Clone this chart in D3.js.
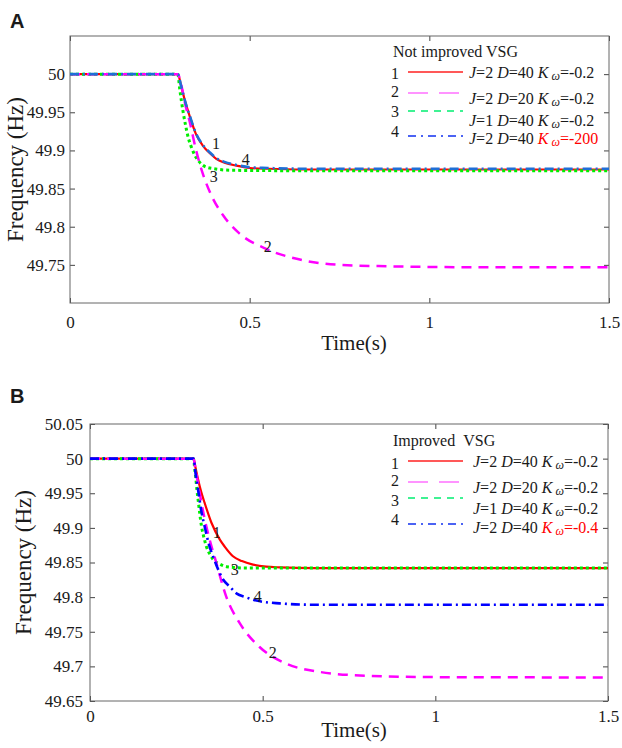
<!DOCTYPE html>
<html>
<head>
<meta charset="utf-8">
<script src="https://cdn.jsdelivr.net/npm/d3@7"></script>
<style>
  body {margin: 0; background: #fff;}
  text {font-family: "Liberation Serif", "Times New Roman", serif; fill: #1a1a1a;}
  .panel-tag {font-family: "Liberation Sans", Arial, sans-serif; font-weight: bold;}
</style>
</head>
<body>
<script>
// tick labels
const xTicks = [0, 0.5, 1, 1.5]
const yTicksA = [49.75, 49.8, 49.85, 49.9, 49.95, 50]
const yTicksB = [49.65, 49.7, 49.75, 49.8, 49.85, 49.9, 49.95, 50, 50.05]

// legend texts
const legendJ = [2, 2, 1, 2]
const legendD = [40, 20, 40, 40]
const legendKA = ['-0.2', '-0.2', '-0.2', '-200']
const legendKB = ['-0.2', '-0.2', '-0.2', '-0.4']

// A: not improved VSG
const timeA1 = [0, 0.3, 0.31, 0.32, 0.333, 0.35, 0.37, 0.39, 0.407, 0.43, 0.463, 0.5, 0.55, 0.65, 1.0, 1.5]
const freqA1 = [50, 50, 49.983, 49.965, 49.945, 49.922, 49.906, 49.896, 49.889, 49.884, 49.880, 49.877, 49.876, 49.875, 49.875, 49.875]
const timeA2 = [0, 0.3, 0.31, 0.32, 0.333, 0.35, 0.37, 0.3935, 0.426, 0.472, 0.546, 0.648, 0.75, 0.9, 1.1, 1.5]
const freqA2 = [50, 50, 49.985, 49.962, 49.938, 49.902, 49.869, 49.841, 49.815, 49.791, 49.771, 49.756, 49.750, 49.748, 49.747, 49.747]
const timeA3 = [0, 0.3, 0.305, 0.31, 0.315, 0.322, 0.329, 0.338, 0.347, 0.36, 0.375, 0.4, 0.45, 0.6, 1.0, 1.5]
const freqA3 = [50, 50, 49.982, 49.965, 49.950, 49.932, 49.917, 49.904, 49.894, 49.885, 49.879, 49.876, 49.874, 49.8735, 49.8735, 49.8735]
const timeA4 = [0, 0.3, 0.31, 0.32, 0.333, 0.35, 0.37, 0.39, 0.407, 0.43, 0.463, 0.5, 0.55, 0.65, 1.0, 1.5]
const freqA4 = [50, 50, 49.983, 49.965, 49.946, 49.923, 49.907, 49.897, 49.890, 49.885, 49.881, 49.878, 49.877, 49.876, 49.876, 49.876]

// B: improved VSG
const timeB1 = [0, 0.3, 0.306, 0.313, 0.322, 0.332, 0.352, 0.376, 0.39, 0.414, 0.44, 0.472, 0.51, 0.549, 0.65, 1.0, 1.5]
const freqB1 = [50, 50, 49.986, 49.970, 49.952, 49.936, 49.907, 49.883, 49.873, 49.859, 49.852, 49.847, 49.844, 49.843, 49.842, 49.842, 49.842]
const timeB2 = [0, 0.3, 0.305, 0.313, 0.325, 0.337, 0.366, 0.395, 0.434, 0.491, 0.568, 0.665, 0.8, 1.0, 1.5]
const freqB2 = [50, 50, 49.986, 49.964, 49.930, 49.902, 49.849, 49.800, 49.762, 49.728, 49.704, 49.692, 49.6865, 49.6845, 49.684]
const timeB3 = [0, 0.3, 0.303, 0.306, 0.31, 0.313, 0.318, 0.323, 0.33, 0.337, 0.347, 0.357, 0.375, 0.395, 0.45, 1.0, 1.5]
const freqB3 = [50, 50, 49.986, 49.974, 49.953, 49.941, 49.920, 49.902, 49.886, 49.873, 49.862, 49.854, 49.848, 49.844, 49.842, 49.842, 49.842]
const timeB4 = [0, 0.3, 0.306, 0.313, 0.322, 0.332, 0.345, 0.357, 0.372, 0.386, 0.405, 0.425, 0.45, 0.482, 0.549, 0.65, 1.0, 1.5]
const freqB4 = [50, 50, 49.977, 49.955, 49.925, 49.902, 49.875, 49.858, 49.839, 49.825, 49.815, 49.805, 49.800, 49.795, 49.791, 49.789, 49.789, 49.789]

// curve number annotations [t, f]
const tagsA = [[0.406, 49.909], [0.55, 49.774], [0.40, 49.865], [0.489, 49.888]]
const tagsB = [[0.367, 49.893], [0.529, 49.720], [0.419, 49.839], [0.486, 49.800]]

const svg = d3.select('body').append('svg')
  .attr('width', 622).attr('height', 748)

// 曲线样式
const styles = [
  {color: '#ff0000', width: 2.2, dash: null, legColor: '#ff2020', legDash: null},
  {color: '#ff00ff', width: 2.5, dash: '10,7', legColor: '#ff70ff', legDash: '20,11'},
  {color: '#00ee00', width: 3, dash: '3,3', legColor: '#00ee70', legDash: '7,6'},
  {color: '#0000ff', width: 2.6, dash: '9,4,2,4', legColor: '#1030f0', legDash: '8,5,2,5'}
]

function paramLabel (sel, j, d, k, red) {
  sel.append('tspan').attr('font-style', 'italic').text('J')
  sel.append('tspan').text('=' + j + ' ')
  sel.append('tspan').attr('font-style', 'italic').text('D')
  sel.append('tspan').text('=' + d + ' ')
  const c = red ? '#ff0000' : null
  sel.append('tspan').attr('font-style', 'italic').style('fill', c).text('K')
  sel.append('tspan').attr('font-style', 'italic').attr('font-size', 12).attr('dy', 2).attr('dx', 3).style('fill', c).text('ω')
  sel.append('tspan').attr('dy', -2).style('fill', c).text('=' + k)
}

function panel (o) {
  const x = d3.scaleLinear().domain([0, 1.5]).range([o.left, o.right])
  const y = d3.scaleLinear().domain(o.yDomain).range([o.bottom, o.top])
  const g = svg.append('g')

  const fmt = d => String(d)
  const styleAxis = a => {
    a.select('.domain').remove()
    a.attr('font-family', null).attr('font-size', 17)
    a.selectAll('line').attr('stroke', '#444')
    a.selectAll('text').attr('fill', null)
  }

  g.append('g').attr('transform', `translate(0,${o.bottom})`)
    .call(d3.axisBottom(x).tickValues(xTicks).tickFormat(fmt).tickSize(-5).tickSizeOuter(0).tickPadding(o.xPad))
    .call(styleAxis)
  g.append('g').attr('transform', `translate(0,${o.top})`)
    .call(d3.axisTop(x).tickValues(xTicks).tickFormat('').tickSize(-5).tickSizeOuter(0))
    .call(styleAxis)
  g.append('g').attr('transform', `translate(${o.left},0)`)
    .call(d3.axisLeft(y).tickValues(o.yTicks).tickFormat(fmt).tickSize(-5).tickSizeOuter(0).tickPadding(o.yPad))
    .call(styleAxis)
  g.append('g').attr('transform', `translate(${o.right},0)`)
    .call(d3.axisRight(y).tickValues(o.yTicks).tickFormat('').tickSize(-5).tickSizeOuter(0))
    .call(styleAxis)

  g.append('rect')
    .attr('x', o.left).attr('y', o.top)
    .attr('width', o.right - o.left).attr('height', o.bottom - o.top)
    .attr('fill', 'none').attr('stroke', '#666').attr('stroke-width', 1)

  const line = d3.line().x(d => x(d[0])).y(d => y(d[1])).curve(d3.curveMonotoneX)
  const order = [0, 2, 1, 3]
  order.forEach(i => {
    const s = styles[i]
    g.append('path')
      .datum(d3.zip(o.times[i], o.freqs[i]))
      .attr('d', line)
      .attr('fill', 'none')
      .attr('stroke', i === 3 && o.blue ? o.blue : s.color)
      .attr('stroke-width', s.width)
      .attr('stroke-dasharray', s.dash)
  })

  g.selectAll('.tag').data(o.tags).enter().append('text')
    .attr('class', 'tag')
    .attr('x', d => x(d[0])).attr('y', d => y(d[1]) + 5)
    .attr('text-anchor', 'middle').attr('font-size', 16)
    .text((d, i) => i + 1)

  // 坐标轴标题
  g.append('text')
    .attr('transform', `translate(${o.yTitleX},${(o.top + o.bottom) / 2}) rotate(-90)`)
    .attr('text-anchor', 'middle').attr('font-size', 23)
    .text('Frequency (Hz)')
  g.append('text')
    .attr('x', 354).attr('y', o.xTitleY)
    .attr('text-anchor', 'middle').attr('font-size', 21)
    .text('Time(s)')

  g.append('text').attr('class', 'panel-tag')
    .attr('x', 10).attr('y', o.tagY).attr('font-size', 20)
    .text(o.name)

  // legend
  const lg = g.append('g').attr('font-size', 16)
  lg.append('text').attr('x', 393).attr('y', o.leg.titleY).text(o.leg.title)
  styles.forEach((s, i) => {
    lg.append('text').attr('x', 395).attr('y', o.leg.numY[i]).attr('text-anchor', 'middle').text(i + 1)
    lg.append('line')
      .attr('x1', 408).attr('x2', 463)
      .attr('y1', o.leg.lineY[i]).attr('y2', o.leg.lineY[i])
      .attr('stroke', s.legColor).attr('stroke-width', 1.6)
      .attr('stroke-dasharray', s.legDash)
    lg.append('text').attr('x', o.leg.textX).attr('y', o.leg.textY[i])
      .call(paramLabel, legendJ[i], legendD[i], o.legendK[i], i === 3)
  })
}

panel({
  name: 'A', tagY: 28,
  left: 70, right: 609, top: 36, bottom: 303,
  yDomain: [49.7, 50.05], yTicks: yTicksA,
  xPad: 13, yPad: 5, yTitleX: 23, xTitleY: 350,
  times: [timeA1, timeA2, timeA3, timeA4],
  freqs: [freqA1, freqA2, freqA3, freqA4],
  blue: '#1f6fd6',
  tags: tagsA,
  legendK: legendKA,
  leg: {
    title: 'Not improved VSG', titleY: 57,
    numY: [79, 97, 117, 137],
    lineY: [72, 93, 111, 136],
    textX: 469, textY: [78, 104, 126, 144]
  }
})

panel({
  name: 'B', tagY: 403,
  left: 90, right: 608, top: 424, bottom: 701,
  yDomain: [49.65, 50.05], yTicks: yTicksB,
  xPad: 9, yPad: 7, yTitleX: 31, xTitleY: 737,
  times: [timeB1, timeB2, timeB3, timeB4],
  freqs: [freqB1, freqB2, freqB3, freqB4],
  tags: tagsB,
  legendK: legendKB,
  leg: {
    title: 'Improved\u00a0\u00a0VSG', titleY: 446,
    numY: [469, 486, 506, 525],
    lineY: [461, 482, 498, 524],
    textX: 473, textY: [467, 493, 514, 533]
  }
})
</script>
</body>
</html>
